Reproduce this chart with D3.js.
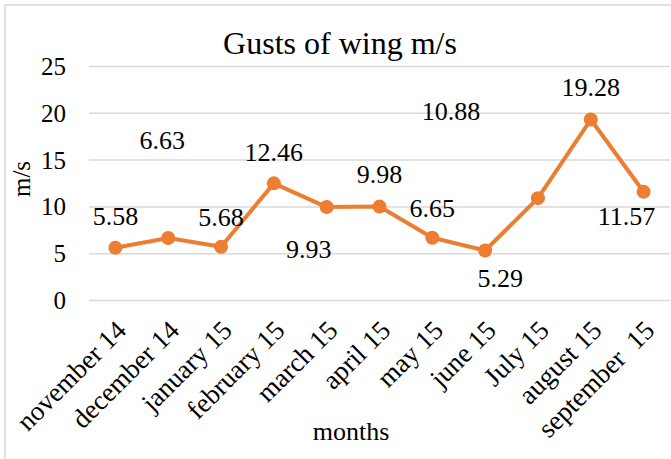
<!DOCTYPE html>
<html>
<head>
<meta charset="utf-8">
<script src="https://cdn.jsdelivr.net/npm/d3@7"></script>
<style>
  html, body { margin: 0; padding: 0; background: #fff; }
  svg text { font-family: "Liberation Serif", "Times New Roman", serif !important; fill: #000; }
</style>
</head>
<body>
<div id="chart"></div>
<script>
// chart data
var months = ["november 14", "december 14", "january 15", "february 15", "march 15",
              "april 15", "may 15", "june 15", "July 15", "august 15", "september  15"];
var gusts = [5.58, 6.63, 5.68, 12.46, 9.93, 9.98, 6.65, 5.29, 10.88, 19.28, 11.57];
var yTicks = [0, 5, 10, 15, 20, 25];

// label placement (pixels, relative to each point) - the labels sit where the source put them
var labelDx = [0, -6, 0, 0, -18, 0, 0, 15, -87, 0, -17];
var labelDy = [-32, -98, -30, -31, 42, -32, -30, 28, -87, -32, 24];

var W = 671, H = 459;
var plot = {left: 89, right: 670, top: 66, bottom: 300};
var serif = "'Liberation Serif', 'Times New Roman', serif";

var svg = d3.select("#chart").append("svg")
    .attr("width", W).attr("height", H);

// chart area border (only top/left fall inside the picture)
svg.append("rect")
    .attr("x", 5).attr("y", 5)
    .attr("width", W + 20).attr("height", H + 20)
    .attr("fill", "#fff")
    .attr("stroke", "#d9d9d9").attr("stroke-width", 1.5);

var x = d3.scalePoint()
    .domain(months)
    .range([plot.left, plot.right])
    .padding(0.5);

var y = d3.scaleLinear()
    .domain([0, 25])
    .range([plot.bottom, plot.top]);

// gridlines + y labels
var yAxis = d3.axisLeft(y).tickValues(yTicks).tickSize(-(plot.right - plot.left)).tickPadding(23);
var gy = svg.append("g")
    .attr("transform", "translate(" + plot.left + ",0)")
    .attr("font-family", serif)
    .call(yAxis);
gy.attr("font-family", serif).attr("font-size", null);
gy.select(".domain").remove();
gy.selectAll(".tick line").attr("stroke", "#d9d9d9").attr("stroke-width", 1.5);
gy.selectAll(".tick text")
    .style("font-size", "25px")
    .attr("dy", "0.34em");

// x labels, rotated
var xAxis = d3.axisBottom(x).tickSize(0).tickPadding(0);
var gx = svg.append("g")
    .attr("transform", "translate(0," + plot.bottom + ")")
    .call(xAxis);
gx.attr("font-family", serif).attr("font-size", null);
gx.select(".domain").remove();
gx.selectAll(".tick text")
    .style("font-size", "27px")
    .style("white-space", "pre")
    .attr("text-anchor", "end")
    .attr("y", 0).attr("dy", 0)
    .attr("transform", "translate(12,32) rotate(-45)");

// line
var line = d3.line()
    .x(function(d, i) { return x(months[i]); })
    .y(function(d) { return y(d); });

svg.append("path")
    .datum(gusts)
    .attr("fill", "none")
    .attr("stroke", "#ed7d31")
    .attr("stroke-width", 4)
    .attr("stroke-linejoin", "round")
    .attr("d", line);

svg.selectAll("circle.pt")
    .data(gusts)
    .enter()
  .append("circle")
    .attr("class", "pt")
    .attr("cx", function(d, i) { return x(months[i]); })
    .attr("cy", function(d) { return y(d); })
    .attr("r", 7)
    .attr("fill", "#ed7d31");

// data labels
svg.selectAll("text.lbl")
    .data(gusts)
    .enter()
  .append("text")
    .attr("class", "lbl")
    .attr("font-family", serif)
    .attr("x", function(d, i) { return x(months[i]) + labelDx[i]; })
    .attr("y", function(d, i) { return y(d) + labelDy[i]; })
    .attr("dy", "0.34em")
    .attr("text-anchor", "middle")
    .style("font-size", "26px")
    .text(function(d) { return d3.format(".2f")(d); });

// titles
svg.append("text")
    .attr("font-family", serif)
    .attr("x", 340).attr("y", 54)
    .attr("text-anchor", "middle")
    .style("font-size", "32px")
    .text("Gusts of wing m/s");

svg.append("text")
    .attr("font-family", serif)
    .attr("x", 351).attr("y", 440)
    .attr("text-anchor", "middle")
    .style("font-size", "26px")
    .text("months");

svg.append("text")
    .attr("font-family", serif)
    .attr("transform", "translate(30," + ((plot.top + plot.bottom) / 2 - 4) + ") rotate(-90)")
    .attr("text-anchor", "middle")
    .style("font-size", "25px")
    .text("m/s");
</script>
</body>
</html>
